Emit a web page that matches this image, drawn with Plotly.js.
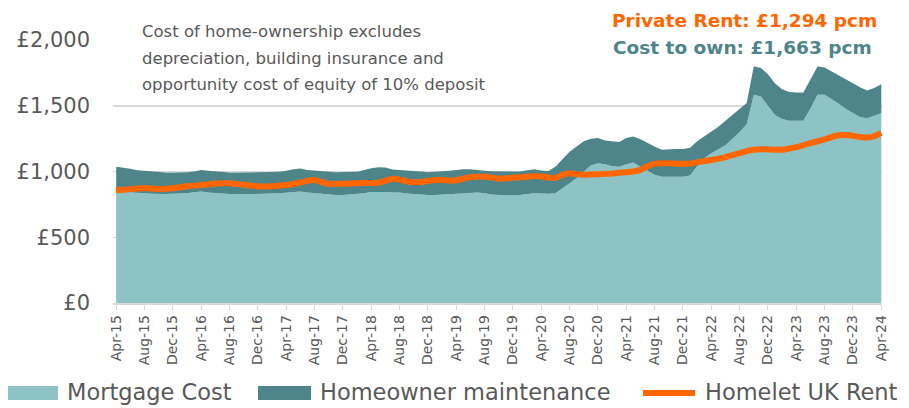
<!DOCTYPE html>
<html>
<head>
<meta charset="utf-8">
<script src="https://cdn.plot.ly/plotly-3.0.1.min.js"></script>
<style>
html,body{margin:0;padding:0;background:#fff;}
#chart{width:909px;height:408px;}
</style>
</head>
<body>
<div id="chart"></div>
<script>
// Monthly series, Apr-15 .. Apr-24 (109 months)
const mortgageCost = [
  847,845,842,840,835,830,827,828,830,830,
  835,842,847,840,835,830,828,827,827,828,
  827,830,832,835,840,845,847,840,835,830,
  825,822,822,825,827,835,845,847,845,840,
  840,832,827,825,822,822,825,830,835,838,
  840,840,835,825,822,822,822,822,828,835,
  832,830,835,870,910,950,1000,1045,1063,1055,
  1040,1037,1055,1068,1037,1005,975,961,961,962,
  961,970,1040,1100,1139,1170,1200,1250,1300,1360,
  1583,1570,1500,1430,1400,1385,1385,1385,1480,1583,
  1583,1550,1515,1475,1445,1415,1405,1425,1443
];
const maintenance = [
  190,185,178,170,170,168,165,164,162,162,
  160,158,165,165,164,165,164,165,165,164,
  165,165,165,164,165,172,175,172,172,170,
  170,172,174,174,172,177,180,185,185,175,
  172,176,178,175,172,174,177,176,177,179,
  177,170,170,177,178,178,178,178,180,182,
  176,174,202,220,240,240,230,205,192,180,
  188,188,200,198,208,210,215,204,209,210,
  211,210,190,166,161,170,185,180,180,160,
  217,217,240,240,226,220,215,215,220,215,
  207,210,215,220,225,225,211,210,220
];
const homeletRent = [
  858,862,866,870,872,870,866,868,872,880,
  888,892,897,902,908,911,910,905,900,893,
  887,885,888,893,898,905,915,930,936,920,
  906,905,906,908,911,912,913,915,930,944,
  938,925,918,920,928,936,935,931,933,945,
  958,961,960,955,945,948,953,956,960,965,
  962,955,950,975,987,980,975,977,980,982,
  985,990,995,1000,1012,1040,1058,1062,1063,1060,
  1058,1060,1070,1080,1088,1098,1110,1125,1140,1155,
  1165,1170,1168,1165,1166,1175,1185,1200,1215,1230,
  1245,1262,1275,1278,1272,1262,1258,1268,1294
];
const tickLabels = [
  'Apr-15','Aug-15','Dec-15','Apr-16','Aug-16','Dec-16','Apr-17','Aug-17',
  'Dec-17','Apr-18','Aug-18','Dec-18','Apr-19','Aug-19','Dec-19','Apr-20',
  'Aug-20','Dec-20','Apr-21','Aug-21','Dec-21','Apr-22','Aug-22','Dec-22',
  'Apr-23','Aug-23','Dec-23','Apr-24'
];
const yTicks = [0, 500, 1000, 1500, 2000];
const yTickLabels = ['£0', '£500', '£1,000', '£1,500', '£2,000'];
const seriesNames = ['Mortgage Cost', 'Homeowner maintenance', 'Homelet UK Rent'];
const headline1 = 'Private Rent: £1,294 pcm';
const headline2 = 'Cost to own: £1,663 pcm';
const noteLines = [
  'Cost of home-ownership excludes',
  'depreciation, building insurance and',
  'opportunity cost of equity of 10% deposit'
];

const C_LIGHT = '#8DC3C5';
const C_DARK = '#4E858A';
const C_ORANGE = '#FF6600';
const C_TEXT = '#595959';
const FONT = 'DejaVu Sans, sans-serif';

const xIdx = mortgageCost.map((_, i) => i);
const tickVals = tickLabels.map((_, i) => i * 4);

const traces = [
  {x: xIdx, y: mortgageCost, name: seriesNames[0], type: 'scatter', mode: 'lines',
   stackgroup: 'own', line: {width: 0, color: C_LIGHT}, fillcolor: C_LIGHT, hoverinfo: 'skip'},
  {x: xIdx, y: maintenance, name: seriesNames[1], type: 'scatter', mode: 'lines',
   stackgroup: 'own', line: {width: 0, color: C_DARK}, fillcolor: C_DARK, hoverinfo: 'skip'},
  {x: xIdx, y: homeletRent, name: seriesNames[2], type: 'scatter', mode: 'lines',
   line: {width: 6, color: C_ORANGE, shape: 'spline', smoothing: 0.6}, hoverinfo: 'skip'}
];

// pixel -> paper helpers (plot area: x 113..882, y 40..303)
const L = 113, R = 27, T = 40, B = 105, W = 909, H = 408;
const pw = W - L - R, ph = H - T - B;
const px = v => (v - L) / pw;
const py = v => (H - B - v) / ph;

const annotations = [
  {text: noteLines[0], x: px(140), y: py(32), xanchor: 'left', yanchor: 'middle'},
  {text: noteLines[1], x: px(140), y: py(58), xanchor: 'left', yanchor: 'middle'},
  {text: noteLines[2], x: px(140), y: py(84), xanchor: 'left', yanchor: 'middle'}
].map(a => Object.assign(a, {xref: 'paper', yref: 'paper', showarrow: false,
  font: {family: FONT, size: 16.5, color: C_TEXT}}));

annotations.push(
  {text: '<b>' + headline1 + '</b>', x: px(879), y: py(20), xref: 'paper', yref: 'paper',
   xanchor: 'right', yanchor: 'middle', showarrow: false,
   font: {family: FONT, size: 18.5, color: C_ORANGE}},
  {text: '<b>' + headline2 + '</b>', x: px(874), y: py(47), xref: 'paper', yref: 'paper',
   xanchor: 'right', yanchor: 'middle', showarrow: false,
   font: {family: FONT, size: 18.5, color: C_DARK}}
);

// custom legend
const LEG_Y = 392;
const legFont = {family: FONT, size: 22.5, color: C_TEXT};
[[65, seriesNames[0]], [318, seriesNames[1]], [703, seriesNames[2]]].forEach(([xx, t]) => {
  annotations.push({text: t, x: px(xx), y: py(LEG_Y), xref: 'paper', yref: 'paper',
    xanchor: 'left', yanchor: 'middle', showarrow: false, font: legFont});
});
const shapes = [
  {type: 'rect', xref: 'paper', yref: 'paper', x0: px(8), x1: px(58), y0: py(LEG_Y + 8), y1: py(LEG_Y - 6),
   fillcolor: C_LIGHT, line: {width: 0}},
  {type: 'rect', xref: 'paper', yref: 'paper', x0: px(258), x1: px(311), y0: py(LEG_Y + 8), y1: py(LEG_Y - 6),
   fillcolor: C_DARK, line: {width: 0}},
  {type: 'line', xref: 'paper', yref: 'paper', x0: px(643), x1: px(695), y0: py(LEG_Y + 1), y1: py(LEG_Y + 1),
   line: {width: 6, color: C_ORANGE}}
];

const layout = {
  width: W, height: H,
  margin: {l: L, r: R, t: T, b: B, pad: 0},
  paper_bgcolor: '#ffffff', plot_bgcolor: '#ffffff',
  showlegend: false,
  font: {family: FONT, color: C_TEXT},
  xaxis: {
    range: [-0.45, 108.1], tickmode: 'array', tickvals: tickVals, ticktext: tickLabels,
    tickangle: -90, tickfont: {family: FONT, size: 14, color: C_TEXT},
    showgrid: false, zeroline: false, showline: true, linecolor: '#D9D9D9', linewidth: 1.5,
    ticks: 'outside', ticklen: 5, tickcolor: '#D9D9D9', tickwidth: 1, fixedrange: true
  },
  yaxis: {
    range: [0, 2000], tickmode: 'array', tickvals: yTicks, ticktext: yTickLabels,
    tickfont: {family: FONT, size: 21, color: C_TEXT},
    showgrid: true, gridcolor: '#D9D9D9', gridwidth: 1.5, zeroline: false, showline: false,
    ticks: '', ticklabelstandoff: 22, fixedrange: true
  },
  annotations: annotations,
  shapes: shapes
};

Plotly.newPlot('chart', traces, layout, {displayModeBar: false, staticPlot: true});
</script>
</body>
</html>
